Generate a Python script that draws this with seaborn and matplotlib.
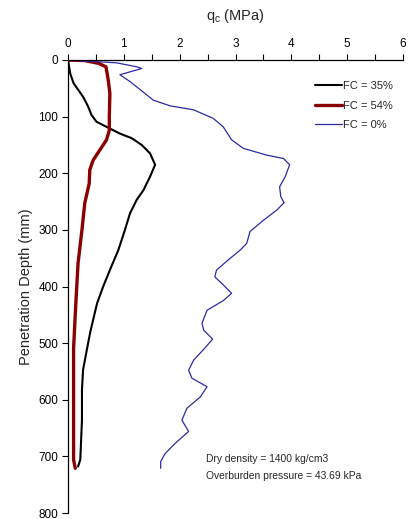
import matplotlib
matplotlib.use("Agg")
import matplotlib.pyplot as plt
import seaborn as sns
import pandas as pd
from matplotlib.ticker import MultipleLocator

# FC = 35%
fc35_qc = [0, 0.04, 0.10, 0.27, 0.36, 0.42, 0.51, 0.75, 0.93, 1.14, 1.32, 1.47, 1.56,
           1.47, 1.35, 1.23, 1.11, 1.02, 0.90, 0.75, 0.63, 0.52, 0.45, 0.40, 0.36,
           0.27, 0.25, 0.25, 0.22, 0.18]
fc35_depth = [0, 24, 41, 65, 82, 97, 109, 121, 130, 138, 150, 165, 185,
              206, 230, 247, 271, 300, 336, 371, 400, 430, 459, 480, 500,
              547, 583, 636, 706, 718]

# FC = 54%
fc54_qc = [0, 0.30, 0.55, 0.68, 0.72, 0.75, 0.74, 0.74, 0.69, 0.57, 0.45, 0.39,
           0.38, 0.30, 0.25, 0.18, 0.14, 0.10, 0.10, 0.10, 0.13]
fc54_depth = [0, 1, 6, 12, 35, 59, 100, 124, 141, 159, 177, 194,
              218, 253, 300, 359, 430, 509, 600, 706, 721]

# FC = 0%
fc0_qc = [0, 0.87, 1.23, 1.32, 0.93, 1.11, 1.53, 1.83, 2.25, 2.60, 2.78, 2.93, 3.14,
          3.56, 3.86, 3.97, 3.89, 3.79, 3.81, 3.87, 3.74, 3.50, 3.26, 3.20, 3.08,
          2.87, 2.66, 2.63, 2.78, 2.93, 2.78, 2.49, 2.40, 2.43, 2.59, 2.43, 2.25,
          2.16, 2.22, 2.49, 2.37, 2.13, 2.04, 2.16, 1.92, 1.74, 1.66, 1.66]
fc0_depth = [0, 5, 12, 15, 26, 38, 71, 81, 88, 103, 118, 141, 156,
             168, 174, 185, 206, 224, 241, 252, 265, 283, 303, 324, 336,
             353, 371, 383, 397, 412, 425, 442, 465, 477, 493, 511, 530,
             548, 562, 577, 595, 615, 636, 656, 677, 695, 709, 721]

labels = ["FC = 35%", "FC = 54%", "FC = 0%"]

df = pd.concat([
    pd.DataFrame({"qc": fc35_qc, "depth": fc35_depth, "series": labels[0]}),
    pd.DataFrame({"qc": fc54_qc, "depth": fc54_depth, "series": labels[1]}),
    pd.DataFrame({"qc": fc0_qc, "depth": fc0_depth, "series": labels[2]}),
])

sns.set_style("white")
plt.rcParams['font.family'] = ['Liberation Sans', 'DejaVu Sans']

fig = plt.figure(figsize=(4.11, 5.19), dpi=100)
ax = fig.add_axes([68/411, 1 - 513/519, (403 - 68)/411, (513 - 60)/519])

colors = {labels[0]: "black", labels[1]: "#8B0000", labels[2]: "#2B2BA8"}
widths = {labels[0]: 1.5, labels[1]: 2.4, labels[2]: 0.9}
for lab in labels:
    sub = df[df["series"] == lab]
    sns.lineplot(data=sub, x="qc", y="depth", sort=False, estimator=None,
                 color=colors[lab], linewidth=widths[lab], label=lab, ax=ax)

ax.set_xlim(0, 6)
ax.set_ylim(800, 0)
ax.xaxis.tick_top()
ax.xaxis.set_label_position("top")
ax.xaxis.set_major_locator(MultipleLocator(1))
ax.xaxis.set_minor_locator(MultipleLocator(0.5))
ax.yaxis.set_major_locator(MultipleLocator(100))
ax.tick_params(axis="both", which="both", direction="out", length=4, width=0.8,
               labelsize=8.5, colors="black", pad=3)
ax.tick_params(axis="x", which="both", top=True, bottom=False)
ax.tick_params(axis="y", left=True, right=False)
for s in ["right", "bottom"]:
    ax.spines[s].set_visible(False)
for s in ["top", "left"]:
    ax.spines[s].set_color("black")
    ax.spines[s].set_linewidth(0.9)

ax.set_xlabel("q$_\\mathregular{c}$ (MPa)", fontsize=10.5, labelpad=13)
ax.set_ylabel("Penetration Depth (mm)", fontsize=10.5, labelpad=4)

leg = ax.legend(loc="upper right", bbox_to_anchor=(1.0, 0.975), frameon=False,
                fontsize=8, handlelength=2.4, handletextpad=0.1, labelspacing=0.85)

ax.text(2.48, 705, "Dry density = 1400 kg/cm3", fontsize=7.4, va="center")
ax.text(2.48, 735, "Overburden pressure = 43.69 kPa", fontsize=7.4, va="center")

fig.savefig("out.png", dpi=100)
